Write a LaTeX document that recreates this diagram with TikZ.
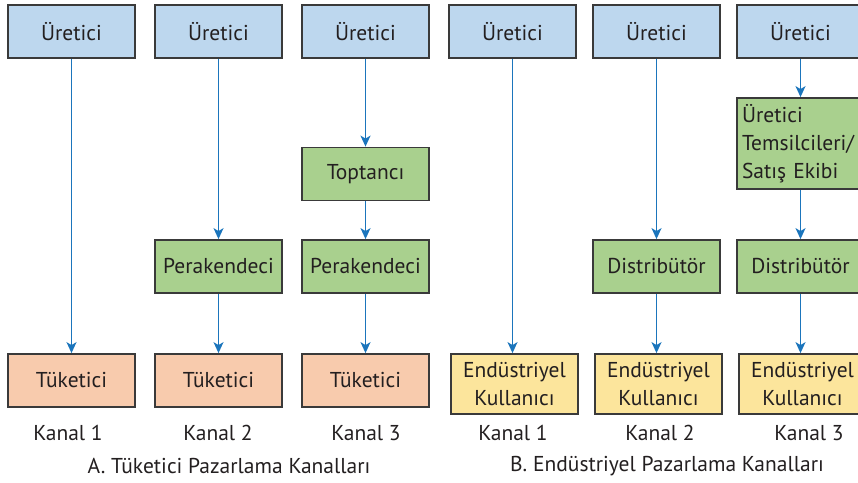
\documentclass[tikz,border=0pt]{standalone}
\usepackage{fontspec}
\setmainfont{PT Sans}
\usetikzlibrary{arrows.meta}
\definecolor{producer}{HTML}{BDD7EE}
\definecolor{middle}{HTML}{A9D08E}
\definecolor{consumer}{HTML}{F8CBAD}
\definecolor{industry}{HTML}{FCE59C}
\definecolor{edge}{HTML}{3A3A3A}
\definecolor{ink}{HTML}{231F20}
\definecolor{flowblue}{HTML}{1B75BC}
\begin{document}
\begin{tikzpicture}[x=1pt,y=-1pt,
  font=\fontsize{21.5}{28}\selectfont,
  box/.style={draw=edge, line width=1.8pt, minimum width=127pt, minimum height=53pt,
    inner sep=0pt, text=ink, align=center},
  prod/.style={box, fill=producer},
  mid/.style={box, fill=middle},
  cons/.style={box, fill=consumer},
  ind/.style={box, fill=industry, minimum height=60pt},
  label/.style={text=ink, inner sep=0pt},
  flow/.style={draw=flowblue, line width=1.5pt, -{Stealth[length=11pt,width=10pt,inset=3pt]}}]
\path[use as bounding box] (0,0) rectangle (858,482);
\clip (0,0) rectangle (858,482);

% producers
\node[prod] (p1) at (71.5,31.5) {Üretici};
\node[prod] (p2) at (218.5,31.5) {Üretici};
\node[prod] (p3) at (365.5,31.5) {Üretici};
\node[prod] (p4) at (512.5,31.5) {Üretici};
\node[prod] (p5) at (656.5,31.5) {Üretici};
\node[prod] (p6) at (800.5,31.5) {Üretici};

% intermediaries
\node[mid] (w3) at (365.5,174) {Toptancı};
\node[mid] (r2) at (218.5,266.5) {Perakendeci};
\node[mid] (r3) at (365.5,266.5) {Perakendeci};
\node[mid] (d5) at (656.5,266.5) {Distribütör};
\node[mid] (d6) at (800.5,266.5) {Distribütör};
\node[mid, minimum height=91pt, text width=117pt, inner xsep=5pt, align=left]
  (s6) at (800.5,143.5) {Üretici\\Temsilcileri/\\Satış Ekibi};

% end points
\node[cons] (c1) at (71.5,380.5) {Tüketici};
\node[cons] (c2) at (218.5,380.5) {Tüketici};
\node[cons] (c3) at (365.5,380.5) {Tüketici};
\node[ind] (u4) at (514.5,384) {Endüstriyel\\Kullanıcı};
\node[ind] (u5) at (658.5,384) {Endüstriyel\\Kullanıcı};
\node[ind] (u6) at (802.5,384) {Endüstriyel\\Kullanıcı};

% flows
\draw[flow] (p1) -- (c1);
\draw[flow] (p2) -- (r2);
\draw[flow] (r2) -- (c2);
\draw[flow] (p3) -- (w3);
\draw[flow] (w3) -- (r3);
\draw[flow] (r3) -- (c3);
\draw[flow] (p4.south) -- (p4.south |- u4.north);
\draw[flow] (p5) -- (d5);
\draw[flow] (d5.south) -- (d5.south |- u5.north);
\draw[flow] (p6) -- (s6);
\draw[flow] (s6) -- (d6);
\draw[flow] (d6.south) -- (d6.south |- u6.north);

% channel labels
\node[label] (k1) at (68,433) {Kanal 1};
\node[label] (k2) at (218,433) {Kanal 2};
\node[label] (k3) at (366,433) {Kanal 3};
\node[label] (k4) at (513,433) {Kanal 1};
\node[label] (k5) at (660,433) {Kanal 2};
\node[label] (k6) at (809,433) {Kanal 3};

% group titles
\node[label] (ta) at (229,466) {A. Tüketici Pazarlama Kanalları};
\node[label] (tb) at (667,466) {B. Endüstriyel Pazarlama Kanalları};
\end{tikzpicture}
\end{document}
